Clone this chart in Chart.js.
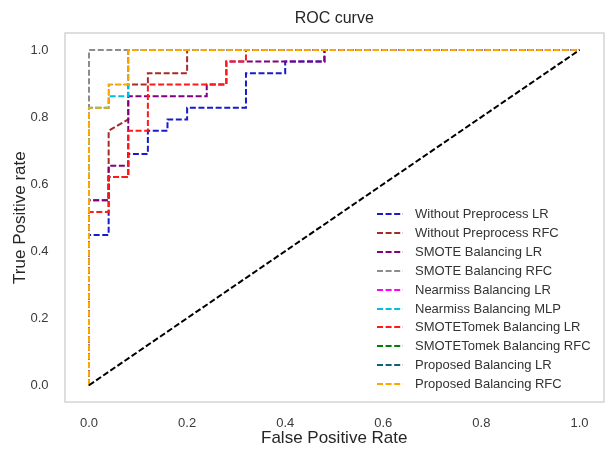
<!DOCTYPE html>
<html>
<head>
<meta charset="utf-8">
<script src="https://cdn.jsdelivr.net/npm/chart.js@4/dist/chart.umd.min.js"></script>
<style>
html,body{margin:0;padding:0;background:#fff;}
canvas{display:block;}
</style>
</head>
<body>
<canvas id="c" width="608" height="450"></canvas>
<script>
// ---- data ----
const seriesLabels = [
  "Without Preprocess LR",
  "Without Preprocess RFC",
  "SMOTE Balancing LR",
  "SMOTE Balancing RFC",
  "Nearmiss Balancing LR",
  "Nearmiss Balancing MLP",
  "SMOTETomek Balancing LR",
  "SMOTETomek Balancing RFC",
  "Proposed Balancing LR",
  "Proposed Balancing RFC"
];
const seriesColors = ["#1a1acc","#a52a2a","#800080","#8c8c8c","#ff00ff","#00bfe0","#ff1a1a","#008000","#0e5f78","#ffa500"];

const fprWithoutLR  = [0,0,0.04,0.04,0.08,0.08,0.12,0.12,0.16,0.16,0.20,0.20,0.32,0.32,0.40,0.40,0.48,0.48,1];
const tprWithoutLR  = [0,0.448,0.448,0.621,0.621,0.690,0.690,0.759,0.759,0.793,0.793,0.828,0.828,0.931,0.931,0.966,0.966,1,1];
const fprWithoutRFC = [0,0,0.04,0.04,0.08,0.08,0.12,0.12,0.20,0.20,1];
const tprWithoutRFC = [0,0.552,0.552,0.759,0.793,0.897,0.897,0.931,0.931,1,1];
const fprSmoteLR    = [0,0,0.04,0.04,0.08,0.08,0.24,0.24,0.28,0.28,0.48,0.48,1];
const tprSmoteLR    = [0,0.552,0.552,0.655,0.655,0.862,0.862,0.897,0.897,0.966,0.966,1,1];
const fprSmoteRFC   = [0,0,1];
const tprSmoteRFC   = [0,1,1];
const fprNearLR     = [0,0,0.04,0.04,0.08,0.08,1];
const tprNearLR     = [0,0.828,0.828,0.897,0.897,1,1];
const fprNearMLP    = [0,0,0.04,0.04,0.08,0.08,1];
const tprNearMLP    = [0,0.828,0.828,0.862,0.862,1,1];
const fprTomekLR    = [0,0,0.04,0.04,0.08,0.08,0.12,0.12,0.28,0.28,0.32,0.32,1];
const tprTomekLR    = [0,0.517,0.517,0.621,0.621,0.759,0.759,0.897,0.897,0.966,0.966,1,1];
const fprTomekRFC   = [0,0,0.04,0.04,0.08,0.08,1];
const tprTomekRFC   = [0,0.828,0.828,0.897,0.897,1,1];
const fprPropLR     = [0,0,0.04,0.04,0.08,0.08,1];
const tprPropLR     = [0,0.828,0.828,0.897,0.897,1,1];
const fprPropRFC    = [0,0,0.04,0.04,0.08,0.08,1];
const tprPropRFC    = [0,0.828,0.828,0.897,0.897,1,1];
const fprChance     = [0,1];
const tprChance     = [0,1];

const xTicks = [0,0.2,0.4,0.6,0.8,1.0];
const yTicks = [0,0.2,0.4,0.6,0.8,1.0];
const tickLabels = ["0.0","0.2","0.4","0.6","0.8","1.0"];

// ---- build ----
const fprs = [fprWithoutLR,fprWithoutRFC,fprSmoteLR,fprSmoteRFC,fprNearLR,fprNearMLP,fprTomekLR,fprTomekRFC,fprPropLR,fprPropRFC];
const tprs = [tprWithoutLR,tprWithoutRFC,tprSmoteLR,tprSmoteRFC,tprNearLR,tprNearMLP,tprTomekLR,tprTomekRFC,tprPropLR,tprPropRFC];
const hiddenUnder = [4,7,8]; // curves fully covered by the last one
const DASH = [6,2.6];
const LW = 2;
const pts = (xs, ys) => xs.map((x,i)=>({x:x,y:ys[i]}));

const datasets = seriesLabels.map((lab,i)=>{
  const hidden = hiddenUnder.includes(i);
  return {
    label: lab,
    data: pts(fprs[i], tprs[i]),
    borderColor: seriesColors[i],
    backgroundColor: seriesColors[i],
    borderWidth: hidden ? 0.9 : LW,
    borderDash: DASH,
    showLine: true,
    pointRadius: 0,
    pointHoverRadius: 0,
    tension: 0,
    fill: false,
    order: hidden ? 50 - i : -i
  };
});
datasets.push({
  label: "chance",
  data: pts(fprChance, tprChance),
  borderColor: "#000000",
  borderWidth: LW,
  borderDash: DASH,
  showLine: true,
  pointRadius: 0,
  tension: 0,
  fill: false,
  order: -20
});

const framePlugin = {
  id: 'frame',
  afterDraw(chart){
    const a = chart.chartArea, ctx = chart.ctx;
    ctx.save();
    ctx.strokeStyle = '#d4d4d4';
    ctx.lineWidth = 1.5;
    ctx.strokeRect(Math.round(a.left), Math.round(a.top), Math.round(a.right) - Math.round(a.left), Math.round(a.bottom) - Math.round(a.top));
    ctx.restore();
  }
};

const legendPlugin = {
  id: 'insideLegend',
  afterDatasetsDraw(chart){
    const ctx = chart.ctx;
    const x0 = 377, x1 = 403, tx = 415, y0 = 214.3, dy = 18.86;
    ctx.save();
    ctx.font = '13px "Liberation Sans", Arial, sans-serif';
    ctx.textBaseline = 'middle';
    ctx.textAlign = 'left';
    for (let i = 0; i < seriesLabels.length; i++) {
      const ds = chart.data.datasets[i];
      const y = Math.round(y0 + i*dy);
      ctx.strokeStyle = ds.borderColor;
      ctx.lineWidth = LW;
      ctx.setLineDash(DASH);
      ctx.beginPath(); ctx.moveTo(x0,y); ctx.lineTo(x1,y); ctx.stroke();
      ctx.setLineDash([]);
      ctx.fillStyle = '#333333';
      ctx.fillText(ds.label, tx, y);
    }
    ctx.restore();
  }
};

const fontFam = '"Liberation Sans", Arial, sans-serif';

new Chart(document.getElementById('c'), {
  type: 'scatter',
  data: { datasets },
  options: {
    responsive: false,
    animation: false,
    devicePixelRatio: 1,
    layout: { padding: { left: 0, right: 4, top: 0, bottom: 0 } },
    plugins: {
      legend: { display: false },
      tooltip: { enabled: false },
      title: {
        display: true,
        fullSize: false,
        text: 'ROC curve',
        color: '#262626',
        font: { family: fontFam, size: 16, weight: 'normal', lineHeight: 1.2 },
        padding: { top: 9, bottom: 5.05 }
      }
    },
    scales: {
      x: {
        type: 'linear',
        min: -0.05, max: 1.05,
        afterBuildTicks: s => { s.ticks = xTicks.map(v=>({value:v})); },
        afterFit: s => { s.height = 48; },
        grid: { display: false, drawTicks: false },
        border: { display: false },
        ticks: {
          color: '#3a3a3a',
          padding: 14,
          font: { family: fontFam, size: 13 },
          callback: (v) => { const k = xTicks.indexOf(v); return k >= 0 ? tickLabels[k] : ''; }
        },
        title: {
          display: true,
          text: 'False Positive Rate',
          color: '#262626',
          font: { family: fontFam, size: 17, lineHeight: 1.2 },
          padding: { top: 0, bottom: 1 }
        }
      },
      y: {
        type: 'linear',
        min: -0.05, max: 1.05,
        afterBuildTicks: s => { s.ticks = yTicks.map(v=>({value:v})); },
        afterFit: s => { s.width = 64.5; },
        grid: { display: false, drawTicks: false },
        border: { display: false },
        ticks: {
          color: '#3a3a3a',
          padding: 16,
          font: { family: fontFam, size: 13 },
          callback: (v) => { const k = yTicks.indexOf(v); return k >= 0 ? tickLabels[k] : ''; }
        },
        title: {
          display: true,
          text: 'True Positive rate',
          color: '#262626',
          font: { family: fontFam, size: 17, lineHeight: 1.2 },
          padding: { top: 10, bottom: 0 }
        }
      }
    }
  },
  plugins: [framePlugin, legendPlugin]
});
</script>
</body>
</html>
